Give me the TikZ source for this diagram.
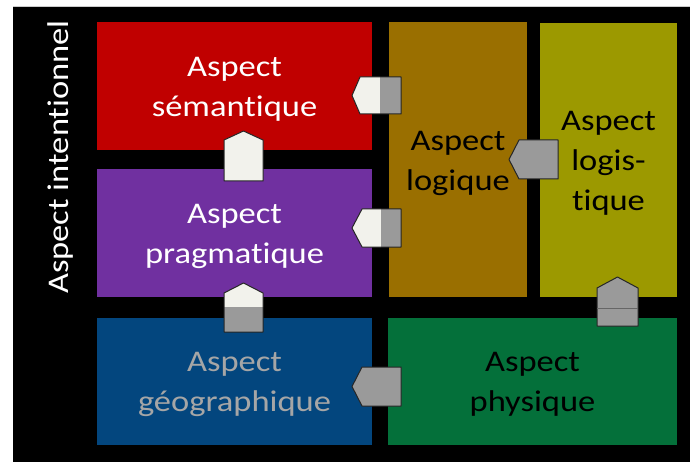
\documentclass[tikz,border=0pt]{standalone}
\usepackage{fontspec}
\setmainfont{Carlito}[Ligatures=NoCommon]
\usepackage{graphicx}
\newcommand{\wt}[1]{\scalebox{1.15}[1]{#1}}
\definecolor{cred}{HTML}{C00000}
\definecolor{cpurple}{HTML}{7030A0}
\definecolor{cblue}{HTML}{03467E}
\definecolor{cbrown}{HTML}{9A6F00}
\definecolor{colive}{HTML}{9C9900}
\definecolor{cgreen}{HTML}{04703A}
\definecolor{cwhite}{HTML}{F2F2EC}
\definecolor{cgray}{HTML}{9A9A9A}
\definecolor{cgtext}{HTML}{A6A6A6}
\tikzset{
  box/.style={inner sep=0pt, outer sep=0pt},
  lbl/.style={inner sep=0pt, align=center, font=\fontsize{30}{40}\selectfont},
  conn/.style={draw=black!85, line width=1pt, line join=round},
}
\begin{document}
\begin{tikzpicture}[x=1pt,y=-1pt]
\useasboundingbox (0,0) rectangle (695,462);
\fill[white] (0,0) rectangle (695,462);
\fill[black] (13,7) rectangle (690,462);
\draw[black!20, line width=0.8pt] (13,6.5) -- (690,6.5);
% boxes
\node[box, fill=cred, minimum width=275pt, minimum height=128pt] (sem) at (234.5,86) {};
\node[box, fill=cpurple, minimum width=275pt, minimum height=128pt] (prag) at (234.5,233) {};
\node[box, fill=cblue, minimum width=275pt, minimum height=127pt] (geo) at (234.5,381.5) {};
\node[box, fill=cbrown, minimum width=138pt, minimum height=275pt] (log) at (458,159.5) {};
\node[box, fill=colive, minimum width=137pt, minimum height=274pt] (logi) at (608.5,160) {};
\node[box, fill=cgreen, minimum width=289pt, minimum height=127pt] (phys) at (532.5,381.5) {};
% labels
\node[lbl, text=white, yshift=-3pt] (tsem) at (sem) {\wt{Aspect}\\\wt{sémantique}};
\node[lbl, text=white, yshift=-3pt] (tprag) at (prag) {\wt{Aspect}\\\wt{pragmatique}};
\node[lbl, text=cgtext, yshift=-3pt] (tgeo) at (geo) {\wt{Aspect}\\\wt{géographique}};
\node[lbl, text=black, yshift=-4pt] (tlog) at (log) {\wt{Aspect}\\\wt{logique}};
\node[lbl, text=black, yshift=-3pt] (tlogi) at (logi) {\wt{Aspect}\\\wt{logis-}\\\wt{tique}};
\node[lbl, text=black, yshift=-3pt] (tphys) at (phys) {\wt{Aspect}\\\wt{physique}};
\node[lbl, rotate=90, text=white] (int) at (61,157) {\wt{Aspect intentionnel}};
% connector semantique <- logique
\fill[cwhite] (352,95.5) -- (360,77) -- (380,77) -- (380,114) -- (360,114) -- cycle;
\fill[cgray] (380,77) rectangle (401,114);
\draw[conn] (352,95.5) -- (360,77) -- (401,77) -- (401,114) -- (360,114) -- cycle;
% connector pragmatique <- logique
\fill[cwhite] (352,228) -- (362,209) -- (381,209) -- (381,247) -- (362,247) -- cycle;
\fill[cgray] (381,209) rectangle (401,247);
\draw[conn] (352,228) -- (362,209) -- (401,209) -- (401,247) -- (362,247) -- cycle;
% connector pragmatique -> semantique
\filldraw[conn, fill=cwhite] (224,140) -- (243.5,131) -- (263,140) -- (263,181) -- (224,181) -- cycle;
% connector geographique -> pragmatique
\fill[cwhite] (224,293) -- (243.5,283) -- (263,293) -- (263,307) -- (224,307) -- cycle;
\fill[cgray] (224,307) rectangle (263,332);
\draw[conn] (224,293) -- (243.5,283) -- (263,293) -- (263,332) -- (224,332) -- cycle;
% connector logistique -> logique
\filldraw[conn, fill=cgray] (509,159.5) -- (519,140) -- (558,140) -- (558,179) -- (519,179) -- cycle;
% connector physique -> logistique
\filldraw[conn, fill=cgray] (597,288) -- (617.5,277) -- (638,288) -- (638,326) -- (597,326) -- cycle;
\draw[black!60, line width=0.8pt] (597,308) -- (638,308);
% connector physique -> geographique
\filldraw[conn, fill=cgray] (352,386.5) -- (362,367) -- (401,367) -- (401,406) -- (362,406) -- cycle;
\end{tikzpicture}
\end{document}
